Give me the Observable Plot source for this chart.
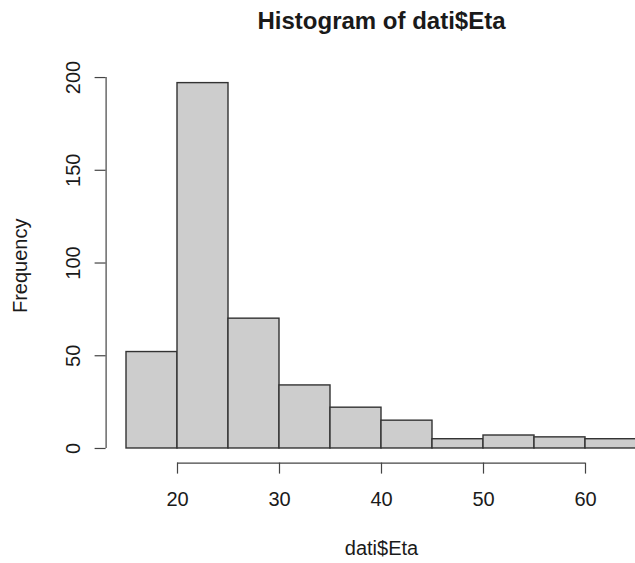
<!DOCTYPE html>
<html><head><meta charset="utf-8">
<script src="https://cdn.jsdelivr.net/npm/d3@7"></script>
<script src="https://cdn.jsdelivr.net/npm/@observablehq/plot@0.6"></script>
<style>html,body{margin:0;padding:0;background:#fff;overflow:hidden} svg{display:block}</style>
</head><body><div id="chart"></div>
<script>
const breaks = [15, 20, 25, 30, 35, 40, 45, 50, 55, 60, 65];
const counts = [52, 197, 70, 34, 22, 15, 5, 7, 6, 5];
const xTicks = [20, 30, 40, 50, 60];
const yTicks = [0, 50, 100, 150, 200];
const title = "Histogram of dati$Eta";
const xLabel = "dati$Eta";
const yLabel = "Frequency";

const bins = counts.map((c, i) => ({x1: breaks[i], x2: breaks[i + 1], count: c}));
const xr = d3.extent(breaks), xpad = (xr[1] - xr[0]) * 0.04;
const yr = [0, d3.max(counts)], ypad = (yr[1] - yr[0]) * 0.04;
const xDomain = [xr[0] - xpad, xr[1] + xpad];
const yDomain = [yr[0] - ypad, yr[1] + ypad];

const ink = "#1a1a1a";
const txt = {textAnchor: "middle", lineAnchor: "middle", fill: ink, fontSize: 20};
const chart = Plot.plot({
  width: 635,
  height: 563,
  marginLeft: 105.6,
  marginRight: -21.4,
  marginTop: 68,
  marginBottom: 100.4,
  style: {fontFamily: "'Liberation Sans', Arial, Helvetica, sans-serif", fontSize: "20px", color: ink, background: "#fff"},
  x: {domain: xDomain, label: null},
  y: {domain: yDomain, label: null},
  marks: [
    Plot.rectY(bins, {x1: "x1", x2: "x2", y1: 0, y2: "count", fill: "#cdcdcd", stroke: "#333", strokeWidth: 1.4}),
    Plot.ruleX([xDomain[0]], {y1: yTicks[0], y2: yTicks[yTicks.length - 1], stroke: "#444", strokeWidth: 1.2}),
    Plot.ruleY([yDomain[0]], {x1: xTicks[0], x2: xTicks[xTicks.length - 1], stroke: "#444", strokeWidth: 1.2}),
    Plot.axisY({ticks: yTicks, tickSize: 11, tickFormat: () => "", label: null, stroke: "#444", strokeWidth: 1.2}),
    Plot.axisX({ticks: xTicks, tickSize: 11, tickFormat: () => "", label: null, stroke: "#444", strokeWidth: 1.2}),
    Plot.text(yTicks, {...txt, y: d => d, text: d => String(d), frameAnchor: "left", dx: -33, rotate: -90}),
    Plot.text(xTicks, {...txt, x: d => d, text: d => String(d), frameAnchor: "bottom", dy: 36.5}),
    Plot.text([title], {...txt, frameAnchor: "top", dy: -47, fontSize: 24, fontWeight: "bold"}),
    Plot.text([xLabel], {...txt, frameAnchor: "bottom", dy: 85.5}),
    Plot.text([yLabel], {...txt, frameAnchor: "left", dx: -86, rotate: -90})
  ]
});
document.getElementById("chart").appendChild(chart);
</script>
</body></html>
